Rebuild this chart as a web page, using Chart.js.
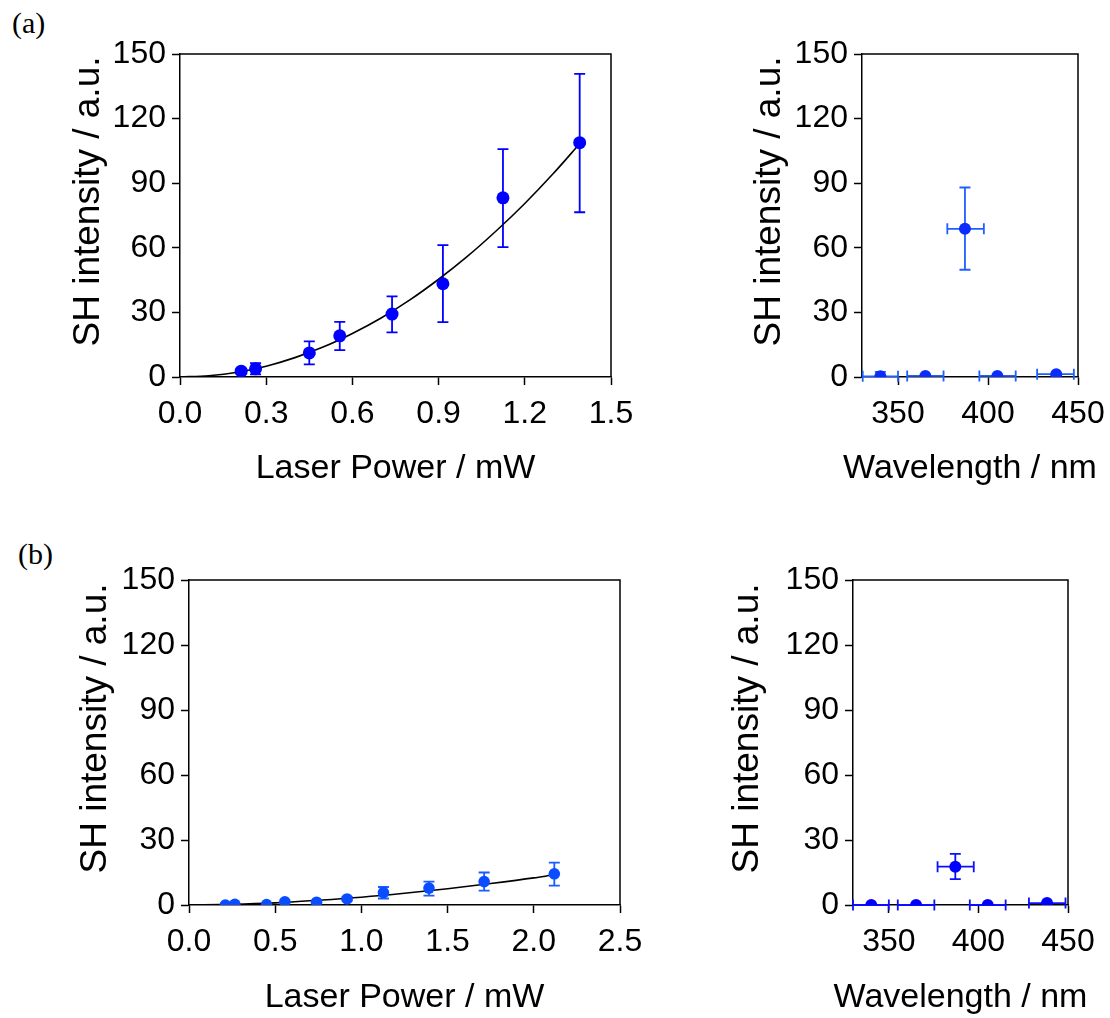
<!DOCTYPE html>
<html>
<head>
<meta charset="utf-8">
<script src="https://cdn.jsdelivr.net/npm/chart.js@4.4.1/dist/chart.umd.min.js"></script>
<style>
  html, body { margin: 0; padding: 0; background: #fff; }
  body { width: 1110px; height: 1018px; position: relative; overflow: hidden; }
  canvas { position: absolute; }
  .tag { position: absolute; font-family: "Liberation Serif", "Times New Roman", serif;
         font-size: 30px; line-height: 30px; color: #000; white-space: nowrap; }
</style>
</head>
<body>
<div class="tag" style="left:12px;top:8px">(a)</div>
<div class="tag" style="left:18px;top:539px">(b)</div>
<canvas id="aPower" width="650" height="510" style="left:0;top:0;width:650px;height:510px"></canvas>
<canvas id="aWave" width="460" height="510" style="left:650px;top:0;width:460px;height:510px"></canvas>
<canvas id="bPower" width="650" height="508" style="left:0;top:510px;width:650px;height:508px"></canvas>
<canvas id="bWave" width="460" height="508" style="left:650px;top:510px;width:460px;height:508px"></canvas>
<script>
// ---------- axis ticks ----------
const intensityTicks = [0, 30, 60, 90, 120, 150];
const powerTicksA = [0, 0.3, 0.6, 0.9, 1.2, 1.5];
const powerTicksB = [0, 0.5, 1.0, 1.5, 2.0, 2.5];
const waveTicks = [350, 400, 450];

// ---------- (a) power dependence ----------
const aPowerX     = [0.213, 0.263, 0.45, 0.556, 0.738, 0.915, 1.124, 1.391];
const aPowerY     = [2.7, 3.8, 11.2, 19.1, 29.2, 43.3, 83.2, 108.8];
const aPowerYHigh = [3.9, 6.4, 16.5, 25.6, 37.4, 61.2, 105.8, 140.8];
const aPowerYLow  = [1.5, 1.2, 5.9, 12.5, 20.7, 25.5, 60.3, 76.5];
const aFitX = [0, 0.1, 0.2, 0.3, 0.4, 0.5, 0.6, 0.7, 0.8, 0.9, 1.0, 1.1, 1.2, 1.3, 1.39];
const aFitY = [0, 0.6, 2.2, 5.0, 9.0, 14.0, 20.2, 27.4, 35.8, 45.4, 56.0, 67.8, 80.6, 94.6, 108.2];

// ---------- (a) wavelength dependence ----------
const aWaveX     = [340.2, 365.2, 387.2, 405.2, 437.9];
const aWaveY     = [0.3, 0.5, 68.8, 0.5, 1.3];
const aWaveYHigh = [2.4, 0.5, 88.0, 0.5, 1.3];
const aWaveYLow  = [0.3, 0.5, 49.8, 0.5, 1.3];
const aWaveXLow  = [330.4, 355.1, 377.4, 395.2, 427.3];
const aWaveXHigh = [350.0, 375.3, 397.7, 415.4, 447.7];

// ---------- (b) power dependence ----------
const bPowerX     = [0.211, 0.266, 0.45, 0.556, 0.74, 0.917, 1.128, 1.392, 1.712, 2.119];
const bPowerY     = [0, 0.3, 0.2, 1.5, 1.3, 2.8, 5.7, 7.8, 10.8, 14.4];
const bPowerYHigh = [0, 0.3, 0.2, 1.5, 1.3, 3.6, 8.3, 10.8, 15.0, 19.6];
const bPowerYLow  = [0, 0.3, 0.2, 1.5, 1.3, 2.0, 3.0, 4.3, 6.6, 8.9];
const bFitX = [0, 0.25, 0.5, 0.75, 1.0, 1.25, 1.5, 1.75, 2.0, 2.1];
const bFitY = [0, 0.3, 1.0, 2.2, 3.6, 5.4, 7.5, 9.9, 12.5, 13.7];

// ---------- (b) wavelength dependence ----------
const bWaveX     = [340.2, 365.2, 387.1, 405.2, 438.3];
const bWaveY     = [0, 0, 17.7, 0, 0.9];
const bWaveYHigh = [0, 0, 23.6, 0, 0.9];
const bWaveYLow  = [0, 0, 11.9, 0, 0.9];
const bWaveXLow  = [330.0, 355.0, 377.2, 395.2, 428.2];
const bWaveXHigh = [350.0, 375.4, 397.4, 415.2, 448.6];

const FONT = '"Liberation Sans", Arial, Helvetica, sans-serif';
Chart.defaults.font.family = FONT;
Chart.defaults.color = '#000';

const pairs = (xs, ys) => xs.map((x, i) => ({ x: x, y: ys[i] }));

// Error bars, drawn beneath the markers through the chart's own scales
const errorBars = {
  id: 'errorBars',
  beforeDatasetsDraw(chart, args, o) {
    if (!o || !o.xs) return;
    const { ctx } = chart;
    const sx = chart.scales.x, sy = chart.scales.y;
    ctx.save();
    ctx.strokeStyle = o.color;
    ctx.lineWidth = o.width;
    ctx.lineCap = 'butt';
    const cap = o.cap;
    for (let i = 0; i < o.xs.length; i++) {
      const px = sx.getPixelForValue(o.xs[i]);
      const py = sy.getPixelForValue(o.ys[i]);
      if (o.yLow && o.yHigh && o.yHigh[i] !== o.yLow[i]) {
        const y1 = sy.getPixelForValue(o.yLow[i]);
        const y2 = sy.getPixelForValue(o.yHigh[i]);
        ctx.beginPath();
        ctx.moveTo(px, y1); ctx.lineTo(px, y2);
        ctx.moveTo(px - cap, y1); ctx.lineTo(px + cap, y1);
        ctx.moveTo(px - cap, y2); ctx.lineTo(px + cap, y2);
        ctx.stroke();
      }
      if (o.xLow && o.xHigh) {
        const x1 = sx.getPixelForValue(o.xLow[i]);
        const x2 = sx.getPixelForValue(o.xHigh[i]);
        ctx.beginPath();
        ctx.moveTo(x1, py); ctx.lineTo(x2, py);
        ctx.moveTo(x1, py - cap); ctx.lineTo(x1, py + cap);
        ctx.moveTo(x2, py - cap); ctx.lineTo(x2, py + cap);
        ctx.stroke();
      }
    }
    ctx.restore();
  }
};

// Closes the plot box on the top and right sides
const boxFrame = {
  id: 'boxFrame',
  afterDraw(chart) {
    const { ctx, chartArea: a } = chart;
    ctx.save();
    ctx.strokeStyle = '#000';
    ctx.lineWidth = 1.5;
    ctx.beginPath();
    ctx.moveTo(a.left, a.top);
    ctx.lineTo(a.right, a.top);
    ctx.lineTo(a.right, a.bottom);
    ctx.stroke();
    ctx.restore();
  }
};

// Axis captions: full-width x caption under the axis, rotated y caption left of the ticks
const axisCaptions = {
  id: 'axisCaptions',
  afterDraw(chart, args, o) {
    if (!o || !o.xText) return;
    const { ctx, chartArea: a } = chart;
    ctx.save();
    ctx.fillStyle = '#000';
    ctx.textAlign = 'center';
    ctx.textBaseline = 'middle';
    ctx.font = o.xSize + 'px ' + FONT;
    ctx.fillText(o.xText, (a.left + a.right) / 2, o.xAt);
    ctx.translate(o.yAt, (a.top + a.bottom) / 2 + o.yShift);
    ctx.rotate(-Math.PI / 2);
    ctx.font = o.ySize + 'px ' + FONT;
    ctx.fillText(o.yText, 0, 0);
    ctx.restore();
  }
};

function panel(id, p) {
  const canvas = document.getElementById(id);
  const W = canvas.width, H = canvas.height;
  const datasets = [{
    type: 'scatter',
    data: pairs(p.xs, p.ys),
    backgroundColor: p.dotColor,
    borderWidth: 0,
    pointRadius: p.radius,
    pointHoverRadius: p.radius,
    order: 0
  }];
  if (p.fitX) {
    datasets.push({
      type: 'line',
      data: pairs(p.fitX, p.fitY),
      borderColor: '#000',
      borderWidth: 1.6,
      pointRadius: 0,
      cubicInterpolationMode: 'monotone',
      fill: false,
      order: 1
    });
  }
  return new Chart(canvas, {
    data: { datasets },
    plugins: [errorBars, boxFrame, axisCaptions],
    options: {
      responsive: false,
      devicePixelRatio: 1,
      animation: false,
      events: [],
      layout: { padding: { left: 0, top: p.box.top, right: W - p.box.right, bottom: 0 } },
      plugins: {
        legend: { display: false },
        tooltip: { enabled: false },
        errorBars: p.err,
        axisCaptions: {
          xText: p.xTitle, xSize: 34, xAt: p.xTitleAt,
          yText: 'SH intensity / a.u.', ySize: 37, yAt: p.yTitleAt, yShift: -14
        }
      },
      scales: {
        x: {
          type: 'linear',
          min: p.xMin, max: p.xMax,
          afterBuildTicks: s => { s.ticks = p.xTicks.map(v => ({ value: v })); },
          afterFit: s => { s.height = H - p.box.bottom; s.paddingLeft = 0; s.paddingRight = 0; },
          ticks: {
            autoSkip: false, maxRotation: 0, padding: 10,
            font: { size: 32 }, color: '#000',
            callback: v => p.xFmt(v)
          },
          grid: { drawOnChartArea: false, drawTicks: true, tickLength: 8, tickWidth: 1.5, tickColor: '#000', color: '#000' },
          border: { display: true, color: '#000', width: 1.5 },
          title: { display: false }
        },
        y: {
          type: 'linear',
          min: 0, max: 150,
          afterBuildTicks: s => { s.ticks = intensityTicks.map(v => ({ value: v })); },
          afterFit: s => { s.width = p.box.left; s.paddingTop = 0; s.paddingBottom = 0; },
          ticks: { autoSkip: false, padding: 6, font: { size: 32 }, color: '#000', callback: v => String(v) },
          grid: { drawOnChartArea: false, drawTicks: true, tickLength: 8, tickWidth: 1.5, tickColor: '#000', color: '#000' },
          border: { display: true, color: '#000', width: 1.5 },
          title: { display: false }
        }
      }
    }
  });
}

const oneDecimal = v => Number(v).toFixed(1);
const whole = v => String(Math.round(v));

panel('aPower', {
  box: { left: 180, top: 54, right: 611, bottom: 377 },
  xMin: 0, xMax: 1.5, xTicks: powerTicksA, xFmt: oneDecimal,
  xTitle: 'Laser Power / mW', xTitleAt: 469, yTitleAt: 89,
  xs: aPowerX, ys: aPowerY, fitX: aFitX, fitY: aFitY,
  dotColor: '#0000ff', radius: 6.5,
  err: { xs: aPowerX, ys: aPowerY, yLow: aPowerYLow, yHigh: aPowerYHigh, color: '#0000ff', width: 1.8, cap: 5.5 }
});

panel('aWave', {
  box: { left: 212, top: 54, right: 428, bottom: 377 },
  xMin: 330, xMax: 450, xTicks: waveTicks, xFmt: whole,
  xTitle: 'Wavelength / nm', xTitleAt: 469, yTitleAt: 120,
  xs: aWaveX, ys: aWaveY,
  dotColor: '#0a2cff', radius: 6,
  err: { xs: aWaveX, ys: aWaveY, yLow: aWaveYLow, yHigh: aWaveYHigh, xLow: aWaveXLow, xHigh: aWaveXHigh, color: '#1f5fff', width: 1.8, cap: 5.5 }
});

panel('bPower', {
  box: { left: 189, top: 70, right: 620, bottom: 395 },
  xMin: 0, xMax: 2.5, xTicks: powerTicksB, xFmt: oneDecimal,
  xTitle: 'Laser Power / mW', xTitleAt: 488, yTitleAt: 96,
  xs: bPowerX, ys: bPowerY, fitX: bFitX, fitY: bFitY,
  dotColor: '#0a4cff', radius: 5.8,
  err: { xs: bPowerX, ys: bPowerY, yLow: bPowerYLow, yHigh: bPowerYHigh, color: '#1a5cff', width: 1.8, cap: 5.5 }
});

panel('bWave', {
  box: { left: 203, top: 70, right: 418, bottom: 395 },
  xMin: 330, xMax: 450, xTicks: waveTicks, xFmt: whole,
  xTitle: 'Wavelength / nm', xTitleAt: 488, yTitleAt: 97.5,
  xs: bWaveX, ys: bWaveY,
  dotColor: '#0000ff', radius: 6,
  err: { xs: bWaveX, ys: bWaveY, yLow: bWaveYLow, yHigh: bWaveYHigh, xLow: bWaveXLow, xHigh: bWaveXHigh, color: '#0a10ff', width: 1.8, cap: 5.5 }
});
</script>
</body>
</html>
